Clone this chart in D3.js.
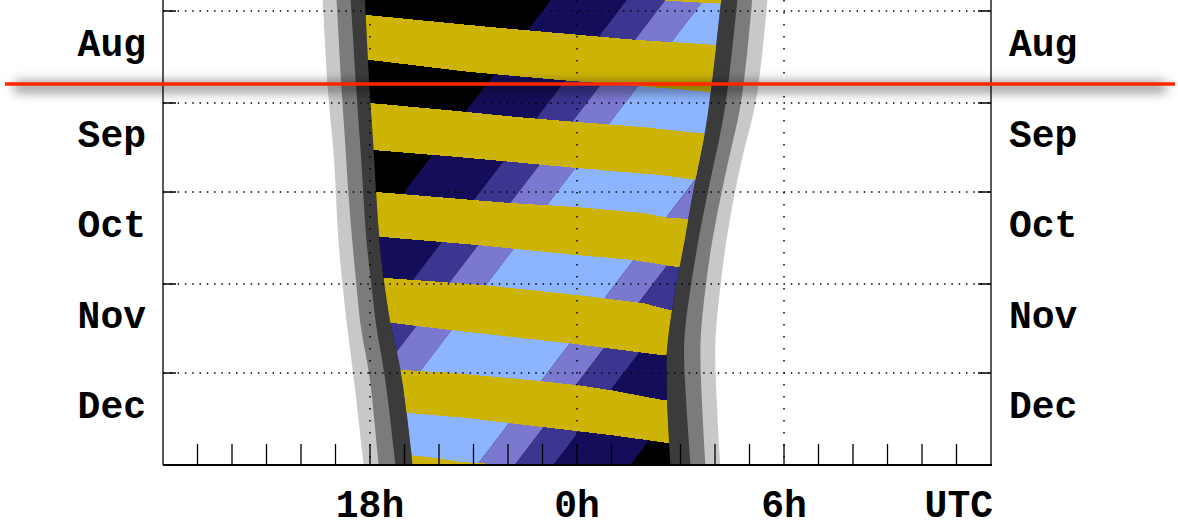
<!DOCTYPE html>
<html>
<head>
<meta charset="utf-8">
<script src="https://cdn.jsdelivr.net/npm/d3@7"></script>
<style>
  html, body { margin: 0; padding: 0; background: #fff; overflow: hidden; }
  text { font-family: "Courier New", "Liberation Mono", monospace; font-weight: bold; fill: #000; }
</style>
</head>
<body>
<svg id="chart" width="1178" height="529"></svg>
<script>
// Night-sky planner: day offsets count from 1 Aug (UTC), hours run noon (12) to next noon (36).
const monthStarts = [0, 31, 61, 92, 122, 153];
const monthNames  = ["Aug", "Sep", "Oct", "Nov", "Dec"];
const hourTicks   = d3.range(13, 36);
const hourGrid    = [18, 24, 30];
const hourLabels  = ["18h", "0h", "6h", "UTC"];
const hourLabelAt = [18, 24, 30, 36];
const markDay     = 24.6;   // highlighted date

// Sun: evening / morning boundaries of civil, nautical, astronomical twilight and full night
const twilightDays  = [-3.9, 30.0, 43.5, 60.3, 77.2, 94.0, 109.2, 121.0, 153.3];
const sunsetHour    = [16.63, 16.78, 16.93, 17.01, 17.07, 17.22, 17.36, 17.51, 17.82];
const duskCivilHour = [17.03, 17.19, 17.28, 17.36, 17.48, 17.62, 17.74, 18.00, 18.25];
const duskNautHour  = [17.44, 17.62, 17.71, 17.80, 17.88, 18.06, 18.20, 18.43, 18.74];
const duskAstroHour = [17.85, 18.00, 18.09, 18.17, 18.26, 18.43, 18.64, 18.93, 19.24];
const dawnAstroHour = [28.18, 27.86, 27.68, 27.36, 27.13, 26.84, 26.64, 26.55, 26.71];
const dawnNautHour  = [28.65, 28.35, 28.12, 27.80, 27.51, 27.28, 27.09, 27.10, 27.29];
const dawnCivilHour = [29.08, 28.81, 28.52, 28.20, 27.91, 27.71, 27.57, 27.57, 27.72];
const sunriseHour   = [29.52, 29.25, 28.90, 28.58, 28.32, 28.14, 28.00, 28.00, 28.15];

// Galactic-centre altitude bands (moon down): boundary hours at the first and last day
const bandEdgeDays   = [-4, 154];
const bandEdgeFirst  = [23.26, 25.46, 26.58, 27.69, 31.42, 32.51, 33.63, 35.86];
const bandEdgeLast   = [12.88, 15.08, 16.20, 17.31, 21.04, 22.13, 23.25, 25.48];

// Moon above the horizon: moonset edge (top) and moonrise edge (bottom), [day, hour]
const moonsetEdges = [
  null,
  [[-0.3, 16.3], [1.35, 17.91], [5.39, 21.48], [9.77, 25.74], [11.46, 28.06], [12.7, 29.8]],
  [[29.2, 16.3], [31.0, 18.0], [33.37, 20.23], [35.73, 22.26], [37.41, 24.0], [39.1, 25.91], [41.12, 27.48], [43.0, 29.8]],
  [[59.5, 16.3], [61.0, 18.2], [62.69, 19.94], [64.71, 22.06], [66.06, 24.0], [68.08, 25.91], [69.77, 26.7], [71.3, 29.8]],
  [[88.3, 16.3], [89.99, 18.49], [92.35, 21.28], [95.72, 24.0], [98.42, 25.91], [100.77, 26.7], [102.5, 29.8]],
  [[119.3, 16.3], [121.0, 18.96], [122.0, 20.41], [124.37, 22.64], [126.06, 24.0], [127.74, 24.96], [131.11, 26.49], [133.0, 29.8]],
  [[148.2, 16.3], [149.65, 19.16], [150.66, 19.94], [152.0, 20.61], [152.35, 21.19], [155.0, 24.0]]
];
const moonriseEdges = [
  [[-5.5, 24.5], [-3.4, 26.7], [-2.5, 28.1], [-1.6, 29.8]],
  [[14.2, 16.3], [16.51, 18.0], [20.56, 20.9], [23.26, 23.51], [25.95, 26.49], [27.3, 27.86], [28.7, 29.8]],
  [[45.2, 16.3], [46.85, 18.09], [49.21, 20.55], [51.23, 22.44], [52.92, 24.0], [55.27, 26.41], [56.96, 27.48], [58.5, 29.8]],
  [[74.6, 16.3], [76.17, 18.38], [78.87, 21.1], [82.24, 24.0], [83.92, 25.62], [86.28, 26.9], [88.0, 29.8]],
  [[103.3, 16.3], [105.16, 18.67], [107.5, 20.32], [111.9, 23.71], [115.9, 26.41], [117.5, 29.8]],
  [[133.7, 16.3], [135.49, 19.16], [137.17, 20.81], [140.21, 23.01], [142.9, 24.96], [145.6, 26.64], [147.5, 29.8]],
  null
];

// ---- styling ----
const C = {
  civil: "#c8c8c8", naut: "#7b7b7b", astro: "#3b3b3b", night: "#000",
  moon: "#cdb404",
  bands: ["#140d5a", "#3c3690", "#7b78d0", "#8db4fe", "#7b78d0", "#3c3690", "#140d5a"],
  mark: "#ff2600"
};
const M = { left: 163, right: 991, top: 0, bottom: 465 };

const origin = Date.UTC(2022, 7, 1);
const dateOf = d => new Date(origin + d * 864e5);

const x = d3.scaleLinear().domain([12, 36]).range([M.left, M.right]);
const y = d3.scaleUtc().domain([dateOf(-3.71), dateOf(153)]).range([M.top, M.bottom]);
const Y = d => y(dateOf(d));

const svg = d3.select("#chart");
const defs = svg.append("defs");
defs.append("clipPath").attr("id", "plot")
  .append("rect").attr("x", M.left).attr("y", M.top)
  .attr("width", M.right - M.left).attr("height", M.bottom - M.top);

const tw = twilightDays.map((d, i) => ({
  d, s0: sunsetHour[i], s1: duskCivilHour[i], s2: duskNautHour[i], s3: duskAstroHour[i],
  r3: dawnAstroHour[i], r2: dawnNautHour[i], r1: dawnCivilHour[i], r0: sunriseHour[i]
}));
const twArea = (a, b) => d3.area().curve(d3.curveBasis)
  .y(r => Y(r.d)).x0(r => x(r[a])).x1(r => x(r[b]))(tw);

defs.append("clipPath").attr("id", "night")
  .append("path").attr("d", twArea("s3", "r3"));

const g = svg.append("g").attr("clip-path", "url(#plot)");

g.append("path").attr("d", twArea("s0", "r0")).attr("fill", C.civil);
g.append("path").attr("d", twArea("s1", "r1")).attr("fill", C.naut);
g.append("path").attr("d", twArea("s2", "r2")).attr("fill", C.astro);

const night = g.append("g").attr("clip-path", "url(#night)");
night.append("rect").attr("x", M.left).attr("y", M.top)
  .attr("width", M.right - M.left).attr("height", M.bottom - M.top).attr("fill", C.night);

const poly = d3.line().x(p => x(p[1])).y(p => Y(p[0]));

// galactic-centre altitude bands
night.selectAll("path.band").data(C.bands).join("path")
  .attr("class", "band")
  .attr("fill", c => c)
  .attr("d", (c, i) => poly([
    [bandEdgeDays[0], bandEdgeFirst[i]], [bandEdgeDays[0], bandEdgeFirst[i + 1]],
    [bandEdgeDays[1], bandEdgeLast[i + 1]], [bandEdgeDays[1], bandEdgeLast[i]]
  ]) + "Z");

// moon-up intervals
const dTop = -12, dBot = 165;
const moonPolys = moonsetEdges.map((set, i) => {
  const rise = moonriseEdges[i];
  const s = set || [[dTop, 16.3], [dTop, 29.8]];
  const r = rise || [[dBot, 16.3], [dBot, 29.8]];
  return s.concat(r.slice().reverse());
});
night.selectAll("path.moon").data(moonPolys).join("path")
  .attr("class", "moon").attr("fill", C.moon)
  .attr("shape-rendering", "crispEdges")
  .attr("d", p => poly(p) + "Z");

// grid
const grid = svg.append("g").attr("stroke", "#000").attr("fill", "none");
const monthY = monthStarts.map(Y);
grid.selectAll("line.hg").data(monthY.slice(0, 5)).join("line")
  .attr("x1", M.left).attr("x2", M.right).attr("y1", v => v).attr("y2", v => v)
  .attr("stroke-width", 1.5).attr("stroke-dasharray", "1.5,5.8");
grid.selectAll("line.vg").data(hourGrid).join("line")
  .attr("x1", h => x(h)).attr("x2", h => x(h)).attr("y1", M.top).attr("y2", M.bottom)
  .attr("stroke-width", 1.5).attr("stroke-dasharray", "1.5,10.5");

// month ticks on both sides
grid.selectAll("line.lt").data(monthY.slice(0, 5)).join("line")
  .attr("x1", M.left).attr("x2", M.left + 13).attr("y1", v => v).attr("y2", v => v).attr("stroke-width", 1.5);
grid.selectAll("line.rt").data(monthY.slice(0, 5)).join("line")
  .attr("x1", M.right - 13).attr("x2", M.right).attr("y1", v => v).attr("y2", v => v).attr("stroke-width", 1.5);

// hour ticks along the bottom
grid.selectAll("line.bt").data(hourTicks).join("line")
  .attr("x1", h => x(h)).attr("x2", h => x(h)).attr("y1", M.bottom - 21).attr("y2", M.bottom)
  .attr("stroke-width", 1.3);

// frame
grid.append("line").attr("x1", M.left).attr("x2", M.left).attr("y1", M.top).attr("y2", M.bottom).attr("stroke-width", 1.3);
grid.append("line").attr("x1", M.right).attr("x2", M.right).attr("y1", M.top).attr("y2", M.bottom).attr("stroke-width", 1.3);
grid.append("line").attr("x1", M.left).attr("x2", M.right + 1).attr("y1", M.bottom).attr("y2", M.bottom).attr("stroke-width", 2.2);

// month labels
const monthMid = monthNames.map((m, i) => Y((monthStarts[i] + monthStarts[i + 1]) / 2));
svg.selectAll("text.ml").data(monthNames).join("text")
  .attr("x", 146).attr("y", (m, i) => monthMid[i] - 1)
  .attr("text-anchor", "end").attr("font-size", 38).text(m => m);
svg.selectAll("text.mr").data(monthNames).join("text")
  .attr("x", 1009).attr("y", (m, i) => monthMid[i] - 1)
  .attr("text-anchor", "start").attr("font-size", 38).text(m => m);

// hour labels
svg.selectAll("text.hl").data(hourLabels).join("text")
  .attr("x", (t, i) => i === hourLabels.length - 1 ? x(hourLabelAt[i]) + 2 : x(hourLabelAt[i]))
  .attr("y", 517)
  .attr("text-anchor", (t, i) => i === hourLabels.length - 1 ? "end" : "middle")
  .attr("font-size", 38).text(t => t);

// highlighted date with soft shadow
const ym = Y(markDay);
const f = defs.append("filter").attr("id", "haze").attr("filterUnits", "userSpaceOnUse")
  .attr("x", 0).attr("y", ym - 40).attr("width", 1178).attr("height", 80);
f.append("feGaussianBlur").attr("stdDeviation", 6);
svg.append("rect").attr("x", 14).attr("width", 1152).attr("y", ym - 2).attr("height", 10)
  .attr("fill", "#000").attr("fill-opacity", 0.45).attr("filter", "url(#haze)");
svg.append("line").attr("x1", 5).attr("x2", 1175).attr("y1", ym).attr("y2", ym)
  .attr("stroke", C.mark).attr("stroke-width", 3.5);
</script>
</body>
</html>
